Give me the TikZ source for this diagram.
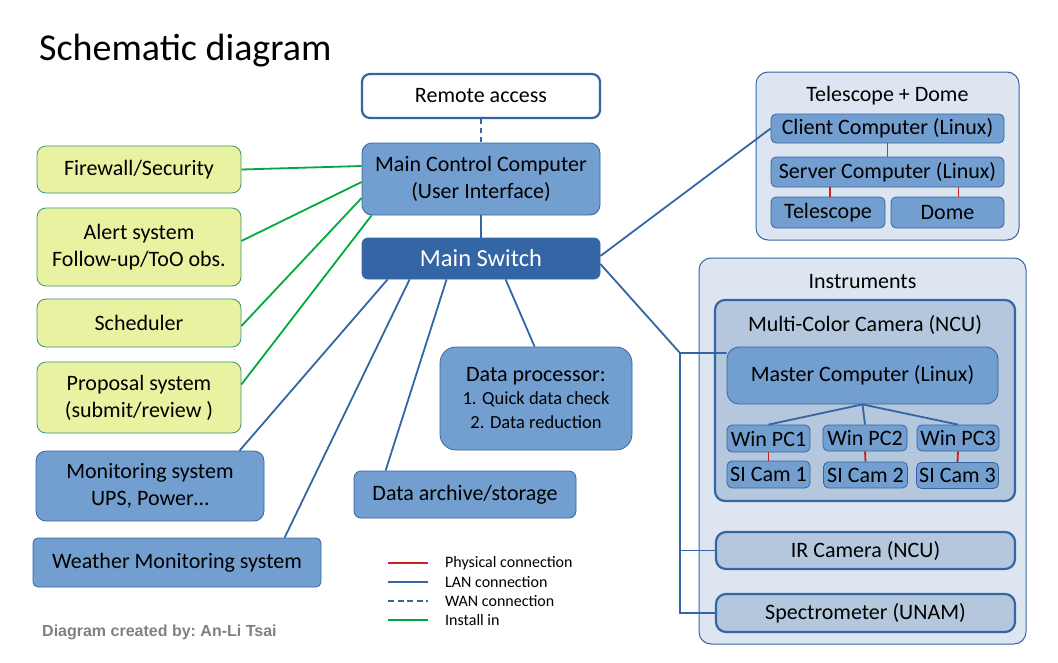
\documentclass[tikz,border=0pt]{standalone}
\usepackage{fontspec}
\setmainfont{Carlito}
\newfontfamily\creditfont{Liberation Sans}
\usetikzlibrary{positioning}
\definecolor{boxblue}{RGB}{114, 159, 207}
\definecolor{lineblue}{RGB}{52, 101, 164}
\definecolor{switchblue}{RGB}{52, 101, 164}
\definecolor{groupbg}{RGB}{221, 230, 240}
\definecolor{innerbg}{RGB}{180, 199, 220}
\definecolor{leaf}{RGB}{232, 242, 161}
\definecolor{leafedge}{RGB}{58, 150, 110}
\definecolor{installgreen}{RGB}{0, 170, 60}
\definecolor{physred}{RGB}{201, 33, 30}
\definecolor{creditgray}{RGB}{128, 128, 128}

\begin{document}
\begin{tikzpicture}[x=1pt, y=-1pt,
    every node/.style={inner sep=0pt, align=center, font=\fontsize{22}{27}\selectfont},
    unit/.style={draw=lineblue, line width=0.8pt, fill=boxblue, rounded corners=10pt},
    smallunit/.style={unit, rounded corners=5pt},
    addon/.style={draw=leafedge, line width=0.8pt, fill=leaf, rounded corners=9pt},
    group/.style={draw=lineblue, line width=1pt, fill=groupbg, rounded corners=12pt},
    instbox/.style={draw=lineblue, line width=2.2pt, fill=innerbg, rounded corners=10pt},
    lan/.style={draw=lineblue, line width=1.8pt},
    wan/.style={lan, dashed, dash pattern=on 5pt off 4pt},
    phys/.style={draw=physred, line width=1.8pt},
    install/.style={draw=installgreen, line width=1.8pt},
    legend/.style={anchor=west, font=\fontsize{16}{18}\selectfont},
    legline/.style={line width=2.6pt},
  ]
  \useasboundingbox (0,0) rectangle (1058,662);

  \node[anchor=west, font=\fontsize{38}{44}\selectfont] (title) at (39,51) {Schematic diagram};

  % centre column
  \node[draw=lineblue, line width=2.2pt, fill=white, rounded corners=8pt,
        minimum width=238, minimum height=44] (remote) at (481,96) {Remote access};
  \node[unit, minimum width=238, minimum height=72] (mcc) at (481,179)
    {Main Control Computer\\(User Interface)};
  \node[unit, fill=switchblue, text=white, rounded corners=6pt, minimum width=238, minimum height=41,
        font=\fontsize{24.5}{28}\selectfont] (switch) at (481,258.5) {Main Switch};

  % software installed on the main computer
  \node[addon, minimum width=204, minimum height=47] (firewall) at (139,169.5) {Firewall/Security};
  \node[addon, minimum width=204, minimum height=78] (alert) at (139,247)
    {Alert system\\Follow-up/ToO obs.};
  \node[addon, minimum width=204, minimum height=48] (sched) at (139,323) {Scheduler};
  \node[addon, minimum width=204, minimum height=71] (proposal) at (139,397.5)
    {Proposal system\\(submit/review )};

  % other units on the switch
  \node[unit, minimum width=228, minimum height=70] (monitor) at (150,486)
    {Monitoring system\\UPS, Power\dots};
  \node[unit, rounded corners=5pt, minimum width=288, minimum height=49] (weather) at (177,562.5)
    {Weather Monitoring system};
  \node[unit, rounded corners=16pt, minimum width=192, minimum height=103] (proc) at (536,398.5)
    {Data processor:\\[-4pt]{\fontsize{18.5}{24}\selectfont 1. Quick data check}\\[-3pt]
     {\fontsize{18.5}{24}\selectfont 2. Data reduction}};
  \node[unit, rounded corners=7pt, minimum width=222, minimum height=47] (archive) at (465,494.5)
    {Data archive/storage};

  % telescope + dome
  \node[group, minimum width=263, minimum height=168] (telgroup) at (887.5,156) {};
  \node (teltitle) at (887.5,96) {Telescope + Dome};
  \node[smallunit, minimum width=233, minimum height=29] (client) at (887.5,128.5) {Client Computer (Linux)};
  \node[smallunit, minimum width=233, minimum height=30] (server) at (887.5,172) {Server Computer (Linux)};
  \node[smallunit, minimum width=114, minimum height=31] (scope) at (828,212.5) {Telescope};
  \node[smallunit, minimum width=113, minimum height=31] (dome) at (947.5,212.5) {Dome};

  % instruments
  \node[group, minimum width=327, minimum height=386] (instgroup) at (862.5,451) {};
  \node (insttitle) at (862.5,282) {Instruments};
  \node[instbox, minimum width=300, minimum height=201] (mcam) at (865,400.5) {};
  \node (mcamtitle) at (865,325) {Multi-Color Camera (NCU)};
  \node[unit, rounded corners=12pt, minimum width=271, minimum height=57] (master) at (862.5,375.5)
    {Master Computer (Linux)};
  \node[smallunit, minimum width=83, minimum height=27] (pc1) at (768.5,438.5) {Win PC1};
  \node[smallunit, minimum width=84, minimum height=26] (pc2) at (865,438) {Win PC2};
  \node[smallunit, minimum width=82, minimum height=26] (pc3) at (958,438) {Win PC3};
  \node[smallunit, minimum width=83, minimum height=27] (cam1) at (768.5,474.5) {SI Cam 1};
  \node[smallunit, minimum width=84, minimum height=26] (cam2) at (865.5,475) {SI Cam 2};
  \node[smallunit, minimum width=82, minimum height=26] (cam3) at (957.5,475.5) {SI Cam 3};
  \node[instbox, minimum width=299, minimum height=37] (ircam) at (865.5,550.5) {IR Camera (NCU)};
  \node[instbox, minimum width=299, minimum height=38] (spec) at (865.5,613) {Spectrometer (UNAM)};

  % connections
  \draw[wan] (remote.south) -- (mcc.north);
  \draw[lan] (mcc.south) -- (switch.north);
  \draw[install] (firewall.east) -- ([yshift=13pt]mcc.west);
  \draw[install] ([yshift=6pt]alert.east) -- ([yshift=-3pt]mcc.west);
  \draw[install] ([yshift=-3pt]sched.east) -- ([yshift=-19pt]mcc.west);
  \draw[install] ([yshift=13pt]proposal.east) -- ([xshift=10pt]mcc.south west);
  \draw[lan] ([xshift=26pt]switch.south west) -- ([xshift=204pt]monitor.north west);
  \draw[lan] ([xshift=48pt]switch.south west) -- ([xshift=252pt]weather.north west);
  \draw[lan] ([xshift=85pt]switch.south west) -- ([xshift=32pt]archive.north west);
  \draw[lan] ([xshift=144pt]switch.south west) -- ([xshift=95pt]proc.north west);
  \draw[lan] ([yshift=2.5pt]switch.east) -- (client.west);
  \coordinate (bus) at (680,353);
  \draw[lan] ([yshift=-5.5pt]switch.east) -- (bus) -- (bus -| master.west);
  \draw[lan] (bus) -- (bus |- spec.west) -- (spec.west);
  \draw[lan] (bus |- ircam.west) -- (ircam.west);
  \draw[lan] (client.south) -- (server.north);
  \draw[phys] ([xshift=2pt]scope.north) -- ([xshift=2pt]scope.north |- server.south);
  \draw[phys] ([xshift=11pt]dome.north) -- ([xshift=11pt]dome.north |- server.south);
  \draw[lan] (master.south) -- (pc1.north);
  \draw[lan] (master.south) -- (pc2.north);
  \draw[lan] (master.south) -- (pc3.north);
  \draw[phys] (pc1.south) -- (cam1.north);
  \draw[phys] (pc2.south) -- (cam2.north);
  \draw[phys] (pc3.south) -- (cam3.north);

  % legend
  \node[legend] (lgphys) at (445,563) {Physical connection};
  \node[legend] (lglan) at (445,582) {LAN connection};
  \node[legend] (lgwan) at (445,601) {WAN connection};
  \node[legend] (lginst) at (445,620) {Install in};
  \draw[phys, legline] ([xshift=-57pt]lgphys.west) -- ([xshift=-17pt]lgphys.west);
  \draw[lan, legline] ([xshift=-57pt]lglan.west) -- ([xshift=-17pt]lglan.west);
  \draw[wan, legline, dash pattern=on 6pt off 3.5pt] ([xshift=-57pt]lgwan.west) -- ([xshift=-17pt]lgwan.west);
  \draw[install, legline] ([xshift=-57pt]lginst.west) -- ([xshift=-17pt]lginst.west);

  \node[anchor=west, text=creditgray, font=\creditfont\bfseries\fontsize{16}{18}\selectfont]
    (credit) at (42,632) {Diagram created by:\ An-Li Tsai};
\end{tikzpicture}
\end{document}
